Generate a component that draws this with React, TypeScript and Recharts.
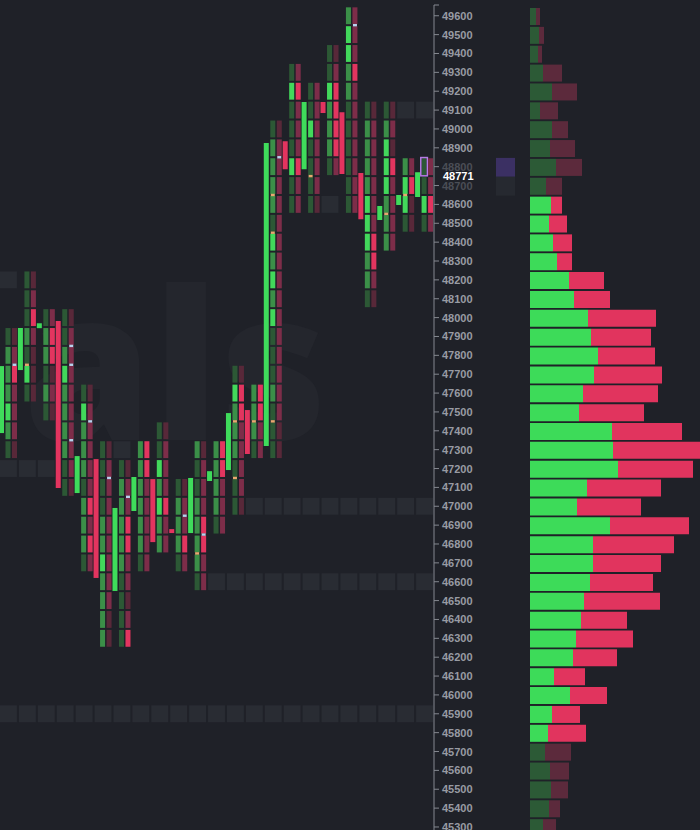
import React from 'react';
import {
  ComposedChart,
  BarChart,
  Bar,
  XAxis,
  YAxis,
  Cell,
  ReferenceArea,
  ReferenceLine,
} from 'recharts';

// price rows (100 pt bins), top to bottom
const priceRows = [
  49600, 49500, 49400, 49300, 49200, 49100, 49000, 48900, 48800, 48700, 48600,
  48500, 48400, 48300, 48200, 48100, 48000, 47900, 47800, 47700, 47600, 47500,
  47400, 47300, 47200, 47100, 47000, 46900, 46800, 46700, 46600, 46500, 46400,
  46300, 46200, 46100, 46000, 45900, 45800, 45700, 45600, 45500, 45400, 45300,
];

// footprint periods
const periodHigh = [47900, 48200, 48000, 48000, 47600, 47300, 47200, 47300, 47400, 47100, 47300, 47300, 47700, 47600, 49000, 49300, 49200, 49400, 49600, 49100, 49100, 48800, 48800];
const periodLow = [47300, 47600, 47500, 47100, 46700, 46300, 46300, 46700, 46800, 46700, 46600, 46900, 47000, 47300, 47300, 48600, 48600, 48800, 48600, 48100, 48400, 48500, 48500];
const candleOpen = [47388, 47722, 47944, 47982, 47070, 47250, 46551, 46975, 47144, 46879, 46858, 47134, 47192, 47510, 47319, 48935, 48787, 49143, 49089, 48766, 48517, 48597, 48639];
const candleClose = [47743, 47945, 47970, 47097, 47266, 46620, 46991, 47155, 46810, 46858, 47150, 47186, 47494, 47277, 48925, 48787, 49143, 49085, 48761, 48522, 48591, 48650, 48771];

// cell intensity per bin, top to bottom (0 dim, 1 mid, 2 strong)
const buyLevels = [
  '0111210', '0001020', '011010', '0012111100', '0211101110', '00001121111',
  '0111110000', '1111110', '0021211', '01110', '10011110', '11110', '02111000',
  '1110', '011110212120001000', '02000200', '0020000', '0021110', '12211000000',
  '01111222110', '01222111', '1220', '0020',
];
const sellLevels = [
  '0121110', '0121000', '122010', '0111111110', '0111112121', '01111111100',
  '0112211012', '2211111', '0111211', '01121', '01112211', '22111', '02211110',
  '2211', '011111111111111100', '12111211', '1111110', '0122221', '11121111111',
  '01111112210', '01021111', '1200', '1121',
];

// small tick marks on cells: [period, price, side]
const markers: [number, number, 'b' | 's'][] = [
  [0, 47700, 's'], [1, 47700, 'b'], [3, 47800, 's'], [3, 47700, 's'], [3, 47300, 's'],
  [4, 47400, 's'], [5, 47100, 's'], [6, 47000, 's'], [9, 46900, 's'], [10, 46800, 's'],
  [10, 46700, 'b'], [12, 47400, 'b'], [12, 47100, 'b'], [13, 47400, 'b'], [14, 47400, 'b'],
  [14, 48600, 'b'], [14, 48400, 'b'], [14, 48800, 's'], [16, 48700, 'b'], [18, 49500, 's'],
  [20, 48500, 'b'], [21, 48600, 'b'],
];

// untested levels: [price, fromPeriod, toPeriod]
const strips: [number, number, number][] = [
  [48200, 0, 0], [47200, 0, 2], [47300, 6, 6], [47000, 13, 22], [46600, 11, 22],
  [45900, 0, 22], [48600, 17, 17], [49100, 21, 22],
];

// volume profile (buy / sell) per price row
const profileBuy = [6, 9, 8, 13, 22, 10, 22, 20, 26, 16, 21, 19, 23, 27, 39, 44, 58, 61, 68, 64, 53, 49, 82, 83, 88, 57, 47, 80, 63, 63, 60, 54, 51, 46, 43, 24, 40, 22, 18, 15, 20, 21, 19, 13];
const profileSell = [4, 5, 4, 19, 25, 18, 16, 25, 26, 16, 11, 18, 19, 15, 35, 36, 68, 60, 57, 68, 75, 65, 70, 89, 75, 74, 64, 79, 81, 68, 63, 76, 46, 57, 44, 31, 37, 28, 38, 26, 19, 17, 11, 13];
const VALUE_HIGH = 48600;
const VALUE_LOW = 45800;

const LAST_PRICE = 48771;
const CURRENT_PERIOD = 22;
const CURRENT_ROW = 48800;
const dimmedTicks = [48800, 48700];
const Y_DOMAIN: [number, number] = [45284, 49657];

const BG = '#1f2128';
const GREEN = ['#2c5835', '#3b8f48', '#42d85b'];
const RED = ['#582839', '#7d2d49', '#e2355f'];
const UP = '#3fdc5b';
const DOWN = '#e3345f';
const STRIP = '#292c33';
const FONT = '"Liberation Sans", Arial, sans-serif';

const periods = periodHigh.map((hi, k) => ({
  k,
  hi,
  lo: periodLow[k],
  open: candleOpen[k],
  close: candleClose[k],
  buy: buyLevels[k],
  sell: sellLevels[k],
  body: [Math.min(candleOpen[k], candleClose[k]), Math.max(candleOpen[k], candleClose[k])],
  buyRange: [periodLow[k] - 50, hi + 50],
  sellRange: [periodLow[k] - 50, hi + 50],
}));

const profileRows = priceRows.map((price, i) => ({
  price,
  buy: profileBuy[i],
  sell: profileSell[i],
  inValue: price <= VALUE_HIGH && price >= VALUE_LOW,
}));

const makeColumn = (side: 'b' | 's') => (props: any) => {
  const { x, y, width, height, payload } = props;
  const top = Math.min(y, y + height);
  const h = Math.abs(height);
  const levels: string = side === 'b' ? payload.buy : payload.sell;
  const step = h / levels.length;
  const pal = side === 'b' ? GREEN : RED;
  const marks = markers.filter((m) => m[0] === payload.k && m[2] === side);
  return (
    <g>
      {levels.split('').map((lv, i) => (
        <rect key={i} x={x} y={top + i * step + 1} width={width} height={step - 2} fill={pal[+lv]} />
      ))}
      {marks.map((m, i) => {
        const idx = (payload.hi - m[1]) / 100;
        return (
          <rect
            key={'m' + i}
            x={x + 0.5}
            y={top + idx * step - 1.2}
            width={width - 1}
            height={2.4}
            fill={side === 'b' ? '#e9a870' : '#b9d2ee'}
          />
        );
      })}
      {side === 'b' && payload.k === CURRENT_PERIOD && (
        <rect
          x={x - 0.8}
          y={top + ((payload.hi - CURRENT_ROW) / 100) * step + 0.3}
          width={width + 1.6}
          height={step - 0.6}
          fill="none"
          stroke="#b77be6"
          strokeWidth={1.5}
        />
      )}
    </g>
  );
};

const BuyColumn = makeColumn('b');
const SellColumn = makeColumn('s');

const stripShape = (count: number) => (p: any) => {
  const w = p.width / count;
  return (
    <g>
      {Array.from({ length: count }, (_, i) => (
        <rect key={i} x={p.x + i * w + 1} y={p.y + 1} width={w - 2} height={p.height - 2} fill={STRIP} />
      ))}
    </g>
  );
};

const PriceTick = (props: any) => {
  const { x, y, payload } = props;
  const v = payload.value;
  if (!priceRows.includes(v)) return <g />;
  const dim = dimmedTicks.includes(v);
  return (
    <text x={x} y={y} dy={4} textAnchor="start" fill={dim ? '#4b4e56' : '#989ba3'} fontSize={11} fontWeight="bold" fontFamily={FONT}>
      {v}
    </text>
  );
};

export default function App() {
  return (
    <div style={{ position: 'relative', width: 700, height: 830, overflow: 'hidden', background: BG }}>
      <style>{`body{margin:0;background:${BG}}`}</style>

      {/* faint watermark */}
      <svg width={700} height={830} style={{ position: 'absolute', left: 0, top: 0 }}>
        <text x={23} y={440} fontSize={208} fontWeight={800} fontFamily='"Open Sans", sans-serif' fill="#24262d">
          als
        </text>
      </svg>

      {/* footprint */}
      <div style={{ position: 'absolute', left: -1.5, top: 0 }}>
        <ComposedChart
          width={495}
          height={830}
          data={periods}
          margin={{ top: 5, right: 0, left: 0, bottom: 0 }}
          barGap={1.5}
          barCategoryGap={0}
        >
          <XAxis dataKey="k" hide />
          <YAxis
            orientation="right"
            type="number"
            domain={Y_DOMAIN}
            allowDataOverflow
            ticks={[...priceRows, Y_DOMAIN[1]]}
            interval={0}
            width={60}
            tickSize={5}
            tickMargin={3}
            stroke="#858890"
            tick={<PriceTick />}
          />
          {strips.map(([price, from, to], i) => (
            <ReferenceArea
              key={i}
              x1={from}
              x2={to}
              y1={price - 50}
              y2={price + 50}
              ifOverflow="visible"
              shape={stripShape(to - from + 1)}
            />
          ))}
          <Bar dataKey="body" barSize={5} isAnimationActive={false}>
            {periods.map((d) => (
              <Cell key={d.k} fill={d.close >= d.open ? UP : DOWN} />
            ))}
          </Bar>
          <Bar dataKey="buyRange" barSize={5} shape={BuyColumn} isAnimationActive={false} />
          <Bar dataKey="sellRange" barSize={5} shape={SellColumn} isAnimationActive={false} />
          <ReferenceLine
            y={LAST_PRICE}
            stroke="transparent"
            label={{ value: String(LAST_PRICE), position: 'right', offset: 9, fill: '#ffffff', fontSize: 11, fontWeight: 'bold', fontFamily: FONT, dy: 4 }}
          />
        </ComposedChart>
      </div>

      {/* volume profile */}
      <div style={{ position: 'absolute', left: 490, top: 0 }}>
        <BarChart
          layout="vertical"
          width={212}
          height={837}
          data={profileRows}
          margin={{ top: 7, right: 0, left: 0, bottom: 0 }}
          barCategoryGap={0}
        >
          <XAxis type="number" domain={[-40, 172]} allowDataOverflow hide />
          <YAxis type="category" dataKey="price" hide />
          <ReferenceArea y1={48800} y2={48800} x1={-34} x2={-15} fill="#3b3063" fillOpacity={1} />
          <ReferenceArea y1={48700} y2={48700} x1={-34} x2={-15} fill="#262930" fillOpacity={1} />
          <Bar dataKey="buy" stackId="v" barSize={17} isAnimationActive={false}>
            {profileRows.map((r) => (
              <Cell key={r.price} fill={r.inValue ? '#3ddb59' : '#2c5a36'} />
            ))}
          </Bar>
          <Bar dataKey="sell" stackId="v" barSize={17} isAnimationActive={false}>
            {profileRows.map((r) => (
              <Cell key={r.price} fill={r.inValue ? '#e1345e' : '#5c2a3c'} />
            ))}
          </Bar>
        </BarChart>
      </div>
    </div>
  );
}
